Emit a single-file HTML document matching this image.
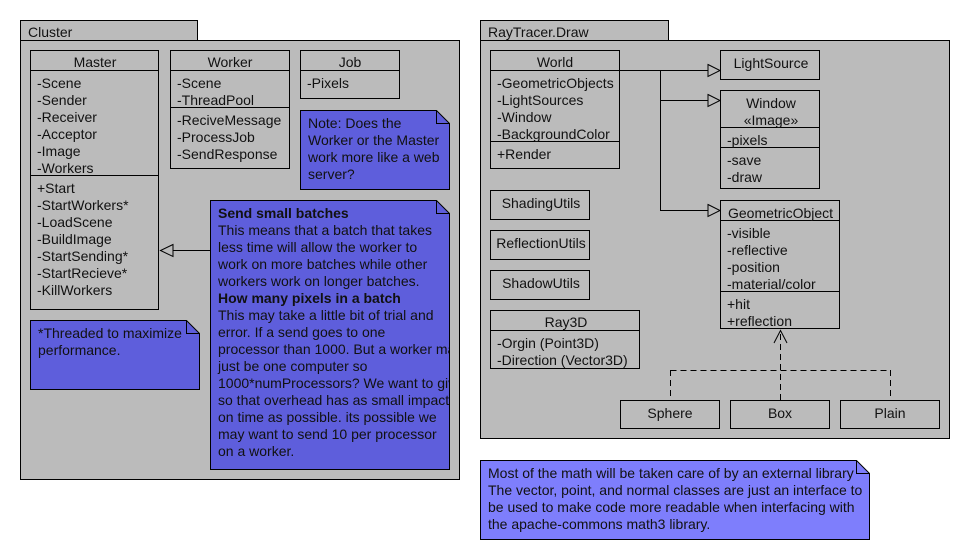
<!DOCTYPE html>
<html><head><meta charset="utf-8"><style>
html,body{margin:0;padding:0;background:#fff;}
svg{display:block;}
text{font-family:"Liberation Sans",Arial,sans-serif;font-size:14px;fill:#111;}
.c{text-anchor:middle;}
.b{font-weight:bold;}
</style></head><body>
<svg width="970" height="560" viewBox="0 0 970 560" xmlns="http://www.w3.org/2000/svg">
<defs><clipPath id="n2"><rect x="210" y="200" width="239" height="269"/></clipPath></defs>
<g stroke="#000" stroke-width="1" fill="#bbbbbb" shape-rendering="crispEdges">
<rect x="20.5" y="20.5" width="177" height="20"/>
<rect x="20.5" y="40.5" width="439" height="439"/>
<rect x="480.5" y="20.5" width="188" height="20"/>
<rect x="480.5" y="40.5" width="469" height="398"/>
<rect x="30.5" y="50.5" width="128" height="259"/>
<line x1="30" y1="70.5" x2="159" y2="70.5"/><line x1="30" y1="175.5" x2="159" y2="175.5"/>
<rect x="170.5" y="50.5" width="119" height="118"/>
<line x1="170" y1="70.5" x2="290" y2="70.5"/><line x1="170" y1="107.5" x2="290" y2="107.5"/>
<rect x="300.5" y="50.5" width="99" height="48"/>
<line x1="300" y1="70.5" x2="400" y2="70.5"/>
<rect x="490.5" y="50.5" width="129" height="118"/>
<line x1="490" y1="70.5" x2="620" y2="70.5"/><line x1="490" y1="141.5" x2="620" y2="141.5"/>
<rect x="720.5" y="50.5" width="99" height="29"/>
<rect x="720.5" y="90.5" width="99" height="98"/>
<line x1="720" y1="127.5" x2="820" y2="127.5"/><line x1="720" y1="147.5" x2="820" y2="147.5"/>
<rect x="720.5" y="200.5" width="119" height="128"/>
<line x1="720" y1="220.5" x2="840" y2="220.5"/><line x1="720" y1="291.5" x2="840" y2="291.5"/>
<rect x="490.5" y="190.5" width="99" height="29"/>
<rect x="490.5" y="230.5" width="99" height="29"/>
<rect x="490.5" y="270.5" width="99" height="29"/>
<rect x="490.5" y="310.5" width="149" height="58"/>
<line x1="490" y1="330.5" x2="640" y2="330.5"/>
<rect x="620.5" y="400.5" width="99" height="28"/>
<rect x="730.5" y="400.5" width="99" height="28"/>
<rect x="840.5" y="400.5" width="99" height="28"/>
</g>
<g stroke="#000" stroke-width="1">
<path d="M300.5 110.5 H436.5 L449.5 123.5 V189.5 H300.5 Z" fill="#5e5edc"/>
<path d="M436.5 110.5 V123.5 H449.5" fill="none"/>
<path d="M210.5 200.5 H436.5 L449.5 213.5 V469.5 H210.5 Z" fill="#5e5edc"/>
<path d="M436.5 200.5 V213.5 H449.5" fill="none"/>
<path d="M30.5 320.5 H186.5 L199.5 333.5 V389.5 H30.5 Z" fill="#5e5edc"/>
<path d="M186.5 320.5 V333.5 H199.5" fill="none"/>
<path d="M480.5 460.5 H856.5 L869.5 473.5 V539.5 H480.5 Z" fill="#7e7efc"/>
<path d="M856.5 460.5 V473.5 H869.5" fill="none"/>
</g>
<g stroke="#000" stroke-width="1" fill="none">
<line x1="210" y1="250.5" x2="160" y2="250.5"/>
<path d="M173 244.5 L160.5 250.5 L173 256.5 Z" fill="#bbbbbb"/>
<line x1="620" y1="70.5" x2="708" y2="70.5"/>
<line x1="660.5" y1="70" x2="660.5" y2="210.5"/>
<line x1="660" y1="100.5" x2="708" y2="100.5"/>
<line x1="660" y1="210.5" x2="708" y2="210.5"/>
<path d="M708 64.5 L720 70.5 L708 76.5 Z" fill="#bbbbbb"/>
<path d="M708 94.5 L720 100.5 L708 106.5 Z" fill="#bbbbbb"/>
<path d="M708 204.5 L720 210.5 L708 216.5 Z" fill="#bbbbbb"/>
<g stroke-dasharray="6,4">
<line x1="780.5" y1="400" x2="780.5" y2="331"/>
<line x1="670.5" y1="370.5" x2="890.5" y2="370.5"/>
<line x1="670.5" y1="370" x2="670.5" y2="400"/>
<line x1="890.5" y1="370" x2="890.5" y2="400"/>
</g>
<path d="M774 343 L780.5 330.5 L787 343"/>
</g>
<text x="28" y="37">Cluster</text>
<text x="488" y="37">RayTracer.Draw</text>
<text class="c" x="95" y="67">Master</text>
<text x="37" y="88">-Scene</text><text x="37" y="105">-Sender</text><text x="37" y="122">-Receiver</text>
<text x="37" y="139">-Acceptor</text><text x="37" y="156">-Image</text><text x="37" y="173">-Workers</text>
<text x="37" y="193">+Start</text><text x="37" y="210">-StartWorkers*</text><text x="37" y="227">-LoadScene</text>
<text x="37" y="244">-BuildImage</text><text x="37" y="261">-StartSending*</text><text x="37" y="278">-StartRecieve*</text>
<text x="37" y="295">-KillWorkers</text>
<text class="c" x="230" y="67">Worker</text>
<text x="177" y="88">-Scene</text><text x="177" y="105">-ThreadPool</text>
<text x="177" y="125">-ReciveMessage</text><text x="177" y="142">-ProcessJob</text><text x="177" y="159">-SendResponse</text>
<text class="c" x="350" y="67">Job</text>
<text x="307" y="88">-Pixels</text>
<text x="308" y="128">Note: Does the</text><text x="308" y="145">Worker or the Master</text>
<text x="308" y="162">work more like a web</text><text x="308" y="179">server?</text>
<g clip-path="url(#n2)">
<text class="b" x="218" y="218">Send small batches</text>
<text x="218" y="235">This means that a batch that takes</text>
<text x="218" y="252">less time will allow the worker to</text>
<text x="218" y="269">work on more batches while other</text>
<text x="218" y="286">workers work on longer batches.</text>
<text class="b" x="218" y="303">How many pixels in a batch</text>
<text x="218" y="320">This may take a little bit of trial and</text>
<text x="218" y="337">error. If a send goes to one</text>
<text x="218" y="354">processor than 1000. But a worker may</text>
<text x="218" y="371">just be one computer so</text>
<text x="218" y="388">1000*numProcessors? We want to give</text>
<text x="218" y="405">so that overhead has as small impact</text>
<text x="218" y="422">on time as possible. its possible we</text>
<text x="218" y="439">may want to send 10 per processor</text>
<text x="218" y="456">on a worker.</text>
</g>
<text x="38" y="338">*Threaded to maximize</text><text x="38" y="355">performance.</text>
<text class="c" x="555" y="67">World</text>
<text x="497" y="88">-GeometricObjects</text><text x="497" y="105">-LightSources</text>
<text x="497" y="122">-Window</text><text x="497" y="139">-BackgroundColor</text>
<text x="497" y="159">+Render</text>
<text class="c" x="771" y="68">LightSource</text>
<text class="c" x="771" y="108">Window</text><text class="c" x="771" y="125">«Image»</text>
<text x="727" y="145">-pixels</text><text x="727" y="165">-save</text><text x="727" y="182">-draw</text>
<text x="728" y="218">GeometricObject</text>
<text x="727" y="238">-visible</text><text x="727" y="255">-reflective</text>
<text x="727" y="272">-position</text><text x="727" y="289">-material/color</text>
<text x="727" y="309">+hit</text><text x="727" y="326">+reflection</text>
<text class="c" x="541" y="208">ShadingUtils</text>
<text class="c" x="541" y="248">ReflectionUtils</text>
<text class="c" x="541" y="288">ShadowUtils</text>
<text class="c" x="566" y="327">Ray3D</text>
<text x="497" y="348">-Orgin (Point3D)</text><text x="497" y="365">-Direction (Vector3D)</text>
<text class="c" x="670" y="418">Sphere</text>
<text class="c" x="780" y="418">Box</text>
<text class="c" x="890" y="418">Plain</text>
<text x="488" y="478">Most of the math will be taken care of by an external library</text>
<text x="488" y="495">The vector, point, and normal classes are just an interface to</text>
<text x="488" y="512">be used to make code more readable when interfacing with</text>
<text x="488" y="529">the apache-commons math3 library.</text>
</svg>
</body></html>
